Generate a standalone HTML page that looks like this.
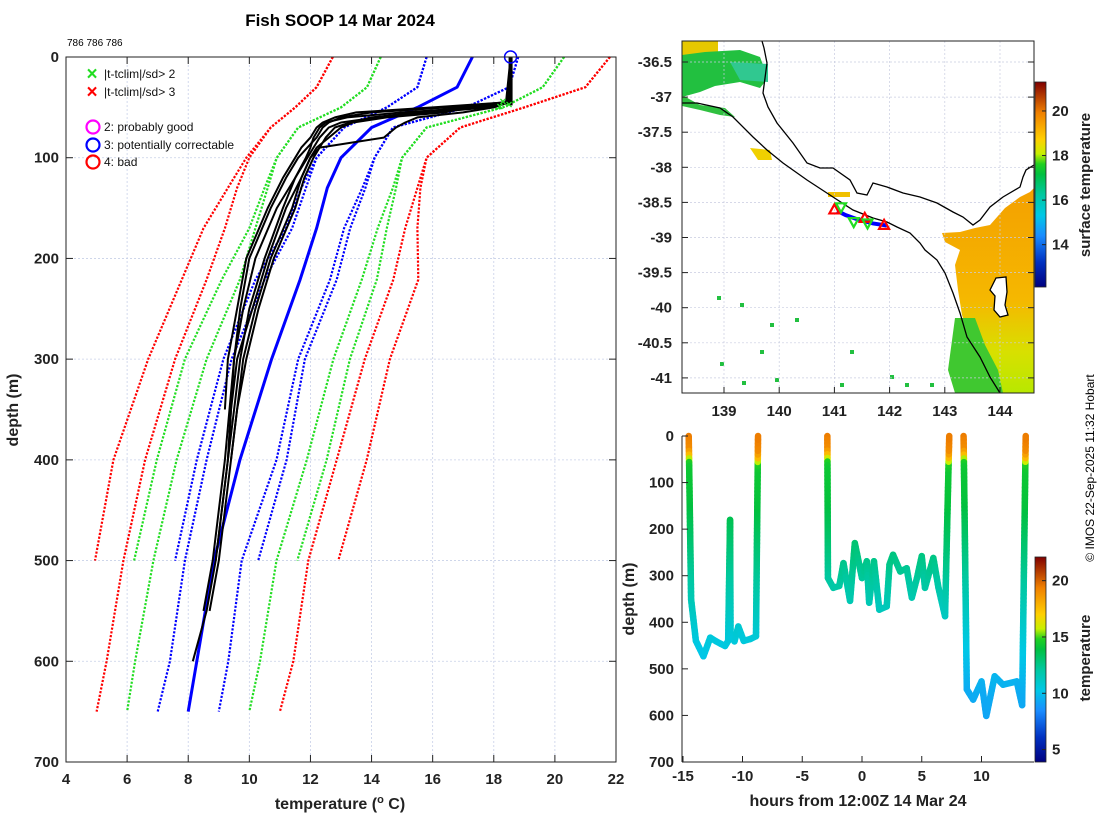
<!DOCTYPE html>
<html><head><meta charset="utf-8"><style>
html,body{margin:0;padding:0;background:#fff;}
svg{display:block;font-family:"Liberation Sans","DejaVu Sans",sans-serif;}
.tk{font-size:15px;font-weight:bold;fill:#222;}
.lab{font-size:16px;font-weight:bold;fill:#222;}
.lg{font-size:12px;fill:#111;}
</style></head><body>
<svg id="root" width="1100" height="820" viewBox="0 0 1100 820" xmlns="http://www.w3.org/2000/svg">
<defs>
<linearGradient id="cmap" x1="0" y1="1" x2="0" y2="0">
<stop offset="0" stop-color="#000080"/><stop offset="0.12" stop-color="#0030c0"/><stop offset="0.25" stop-color="#1a8cff"/><stop offset="0.35" stop-color="#00c8e6"/><stop offset="0.45" stop-color="#00c8a0"/><stop offset="0.55" stop-color="#00c040"/><stop offset="0.6" stop-color="#20d020"/><stop offset="0.65" stop-color="#c8f000"/><stop offset="0.72" stop-color="#ffd000"/><stop offset="0.85" stop-color="#f08000"/><stop offset="1" stop-color="#800000"/>
</linearGradient>
<linearGradient id="sstgrad" x1="0" y1="0" x2="0" y2="1">
<stop offset="0" stop-color="#f4a000"/><stop offset="0.55" stop-color="#f5b800"/><stop offset="0.8" stop-color="#d8e000"/><stop offset="1" stop-color="#b8e800"/>
</linearGradient>
</defs>
<text x="340" y="26" text-anchor="middle" style="font-size:17px;font-weight:bold">Fish SOOP 14 Mar 2024</text>
<text x="67" y="46" style="font-size:10px">786 786 786</text>
<g id="left"></g>
<g id="map"></g>
<g id="ts"></g>
<text transform="translate(1094,468) rotate(-90)" text-anchor="middle" style="font-size:12px">© IMOS 22-Sep-2025 11:32 Hobart</text>
</svg>
<script>
// ---------- profile data ----------
const climDepths = [0,30,50,70,100,130,170,221,300,400,500,600,650];
const meanA   = [17.3,16.8,15.5,14.0,13.0,12.55,12.2,11.66,10.73,9.69,8.84,8.28,8.0];
const blueAL  = [15.8,15.5,14.5,13.1,12.2,11.85,11.4,10.5,9.42,8.6,7.89,7.4,7.0];
const blueAR  = [18.8,18.5,17.1,14.7,14.1,13.7,13.1,12.64,11.6,10.89,9.75,9.31,9.0];
const greenAL = [14.3,13.85,13.0,11.6,10.9,10.6,10.2,9.69,8.6,7.62,6.86,6.26,6.0];
const greenAR = [20.3,19.6,18.3,15.8,15.0,14.7,14.2,13.68,12.75,11.88,10.89,10.35,10.0];
const redAL   = [12.73,12.2,11.5,10.7,10.0,9.6,9.2,8.6,7.57,6.59,5.88,5.33,5.0];
const redAR   = [21.8,21.0,19.0,16.9,15.8,15.5,15.1,14.71,13.78,12.86,11.93,11.44,11.0];
const blueBL  = [15.8,15.5,14.5,13.1,12.2,11.7,11.2,10.2,9.15,8.28,7.57];
const blueBR  = [18.8,18.5,17.1,14.7,14.1,13.8,13.3,12.86,11.82,11.22,10.29];
const greenBL = [14.3,13.85,13.0,11.6,10.9,10.5,10.0,9.1,7.89,6.97,6.23];
const greenBR = [20.3,19.6,18.3,15.8,15.0,14.8,14.5,14.17,13.29,12.53,11.57];
const redBL   = [12.73,12.2,11.5,10.7,9.9,9.3,8.5,7.79,6.69,5.55,4.95];
const redBR   = [21.8,21.0,19.0,16.9,15.8,15.6,15.5,15.53,14.6,13.84,12.91];
const castDepths = [0,45,50,55,60,65,70,80,90,100,120,150,200,250,300,350,400,450,500,550,600];
const cast1 = [18.55,18.5,17.6,15.0,13.2,12.5,12.3,12.1,12.0,11.85,11.5,11.1,10.5,10.0,9.7,9.5,9.3,9.1,8.9,8.6,8.15];
const cast2 = [18.55,18.45,17.2,16.4,14.5,13.4,13.0,12.6,12.2,12.0,11.7,11.4,10.7,10.2,9.8,9.6,9.4,9.2,9.0,8.7];
const cast3 = [18.55,18.5,18.0,17.0,15.5,15.1,14.8,14.4,12.3,12.0,11.7,11.2,10.6,10.1,9.6,9.4,9.3,9.1,8.9];
const cast4 = [18.55,18.4,16.5,14.0,13.0,12.6,12.4,12.2,11.9,11.6,11.2,10.7,10.0,9.7,9.5,9.4,9.3];
const cast5 = [18.55,18.5,17.8,16.0,14.2,13.0,12.6,12.3,12.1,11.9,11.5,10.9,10.2,9.8,9.5,9.35,9.2,9.0,8.8,8.5];
const cast6 = [18.55,18.5,17.0,15.5,14.0,13.3,12.8,12.5,12.3,12.1,11.8,11.5,10.8,10.3,9.9,9.6,9.4];
const cast7 = [18.55,18.45,16.0,13.5,12.8,12.4,12.2,12.0,11.7,11.5,11.1,10.6,9.9,9.6,9.3,9.2];
const tempTicks = [4,6,8,10,12,14,16,18,20,22];
const depthTicks = [0,100,200,300,400,500,600,700];

// ---------- depth-time data ----------
const seg1Hours = [-14.5,-14.3,-13.9,-13.27,-12.7,-12.2,-11.46,-11.2,-11.04,-11.0,-10.67,-10.35,-9.9,-9.35,-8.87,-8.7];
const seg1Depth = [0,351,440,473,433,441,451,440,180,430,441,409,440,436,430,0];
const seg2Hours = [-2.9,-2.85,-2.4,-1.9,-1.55,-1.0,-0.6,0,0.4,0.6,1.0,1.45,2.07,2.3,2.6,3.2,3.74,4.17,4.6,5.0,5.27,5.97,6.4,6.95,7.3];
const seg2Depth = [0,305,326,322,273,354,230,305,269,358,269,373,366,276,255,291,284,347,305,258,326,262,326,387,0];
const seg3Hours = [8.5,8.77,9.3,10.0,10.4,11.1,11.8,12.95,13.4,13.7];
const seg3Depth = [0,544,566,527,601,516,534,527,578,0];
const colorDepths = [0,30,45,55,70,150,250,350,450,550,650];
const colorTemps  = [19.5,19,17.5,14.8,14.3,14.0,12.8,11.6,10.4,9.4,9];
const hourTicks = [-15,-10,-5,0,5,10,15];
const tsDepthTicks = [0,100,200,300,400,500,600,700];
const cbar2Ticks = [5,10,15,20];

// ---------- map data ----------
const lonTicks = [139,140,141,142,143,144];
const latTicks = [-36.5,-37,-37.5,-38,-38.5,-39,-39.5,-40,-40.5,-41];
const cbar1Ticks = [14,16,18,20];
const trackLon = [141.05,141.2,141.45,141.7,141.95];
const trackLat = [-38.62,-38.68,-38.75,-38.8,-38.83];
const redTriLon = [141.0,141.55,141.9];
const redTriLat = [-38.6,-38.72,-38.82];
const greenTriLon = [141.12,141.35,141.6];
const greenTriLat = [-38.57,-38.78,-38.8];

const NS='http://www.w3.org/2000/svg';
function mk(parent,tag,attrs,text){const e=document.createElementNS(NS,tag);for(const k in attrs)e.setAttribute(k,attrs[k]);if(text!==undefined)e.textContent=text;parent.appendChild(e);return e;}
function interp(xs,ys,x){if(x<=xs[0])return ys[0];for(let i=1;i<xs.length;i++){if(x<=xs[i]){const t=(x-xs[i-1])/(xs[i]-xs[i-1]);return ys[i-1]+t*(ys[i]-ys[i-1]);}}return ys[ys.length-1];}
const cstops=[[0,[0,0,128]],[0.12,[0,48,192]],[0.25,[26,140,255]],[0.35,[0,200,230]],[0.45,[0,200,160]],[0.55,[0,192,64]],[0.6,[32,208,32]],[0.65,[200,240,0]],[0.72,[255,208,0]],[0.85,[240,128,0]],[1,[128,0,0]]];
function cmap(v){v=Math.max(0,Math.min(1,v));for(let i=1;i<cstops.length;i++){if(v<=cstops[i][0]){const a=cstops[i-1],b=cstops[i];const t=(v-a[0])/(b[0]-a[0]);const c=a[1].map((x,j)=>Math.round(x+t*(b[1][j]-x)));return 'rgb('+c.join(',')+')';}}return 'rgb(128,0,0)';}

// ================= LEFT PANEL =================
const L=document.getElementById('left');
const lx=t=>66+(t-4)*(550/18), ly=d=>57+d*(705/700);
mk(L,'rect',{x:66,y:57,width:550,height:705,fill:'#fff'});
tempTicks.forEach(t=>{const g=mk(L,'line',{x1:lx(t),x2:lx(t),y1:57,y2:762,stroke:'#c8d0e8','stroke-width':0.8,'stroke-dasharray':'2 2'});});
depthTicks.forEach(d=>{const g=mk(L,'line',{x1:66,x2:616,y1:ly(d),y2:ly(d),stroke:'#c8d0e8','stroke-width':0.8,'stroke-dasharray':'2 2'});});
function prof(temps,depths,color,w,dash,name){const pts=temps.map((t,i)=>lx(t).toFixed(1)+','+ly(depths[i]).toFixed(1)).join(' ');const e=mk(L,'polyline',{points:pts,fill:'none',stroke:color,'stroke-width':w,'stroke-linejoin':'round'});if(dash)e.setAttribute('stroke-dasharray',dash);return e;}
const dsh='2.2 1.6';
prof(redAL,climDepths,'#ff0000',2.2,dsh,'clim-minus-3sd');prof(redAR,climDepths,'#ff0000',2.2,dsh,'clim-plus-3sd');
prof(redBL,climDepths,'#ff0000',2.2,dsh,'clim2-minus-3sd');prof(redBR,climDepths,'#ff0000',2.2,dsh,'clim2-plus-3sd');
prof(greenAL,climDepths,'#22dd22',2.2,dsh,'clim-minus-2sd');prof(greenAR,climDepths,'#22dd22',2.2,dsh,'clim-plus-2sd');
prof(greenBL,climDepths,'#22dd22',2.2,dsh,'clim2-minus-2sd');prof(greenBR,climDepths,'#22dd22',2.2,dsh,'clim2-plus-2sd');
prof(blueAL,climDepths,'#0000ff',2.2,dsh,'clim-minus-1sd');prof(blueAR,climDepths,'#0000ff',2.2,dsh,'clim-plus-1sd');
prof(blueBL,climDepths,'#0000ff',2.2,dsh,'clim2-minus-1sd');prof(blueBR,climDepths,'#0000ff',2.2,dsh,'clim2-plus-1sd');
prof(meanA,climDepths,'#0000ff',3,null,'clim-mean');
[cast1,cast2,cast3,cast4,cast5,cast6,cast7].forEach((c,i)=>{prof(c,castDepths,'#000',2,null,'xbt-profile-'+(i+1));});
mk(L,'line',{x1:lx(18.55),x2:lx(18.55),y1:ly(0),y2:ly(48),stroke:'#000','stroke-width':4});
const qc=mk(L,'circle',{cx:lx(18.55),cy:ly(0),r:6,fill:'none',stroke:'#0000ff','stroke-width':1.5});

[[18.3,44],[18.5,47],[18.2,49]].forEach(p=>{const e=mk(L,'text',{x:lx(p[0]),y:ly(p[1])+4,'text-anchor':'middle',fill:'#22dd22',style:'font-size:12px;font-weight:bold'},'×');});
mk(L,'rect',{x:66,y:57,width:550,height:705,fill:'none',stroke:'#222','stroke-width':1});
tempTicks.forEach(t=>{mk(L,'line',{x1:lx(t),x2:lx(t),y1:762,y2:755,stroke:'#222'});mk(L,'line',{x1:lx(t),x2:lx(t),y1:57,y2:64,stroke:'#222'});const e=mk(L,'text',{x:lx(t),y:784,'text-anchor':'middle',class:'tk'},t);});
depthTicks.forEach(d=>{mk(L,'line',{x1:66,x2:73,y1:ly(d),y2:ly(d),stroke:'#222'});mk(L,'line',{x1:609,x2:616,y1:ly(d),y2:ly(d),stroke:'#222'});const e=mk(L,'text',{x:59,y:ly(d)+5,'text-anchor':'end',class:'tk'},d);});
let e=mk(L,'text',{x:340,y:809,'text-anchor':'middle',class:'lab'});e.innerHTML='temperature (<tspan dy="-6" style="font-size:11px">o</tspan><tspan dy="6"> C)</tspan>';
e=mk(L,'text',{transform:'translate(18,410) rotate(-90)','text-anchor':'middle',class:'lab'},'depth (m)');
const LG=mk(L,'g',{});
e=mk(LG,'text',{x:92,y:80,'text-anchor':'middle',fill:'#22dd22',style:'font-size:19px;font-weight:bold'},'×');
e=mk(LG,'text',{x:104,y:78,class:'lg'},'|t-tclim|/sd> 2');
e=mk(LG,'text',{x:92,y:98,'text-anchor':'middle',fill:'#ff0000',style:'font-size:19px;font-weight:bold'},'×');
e=mk(LG,'text',{x:104,y:96,class:'lg'},'|t-tclim|/sd> 3');
[['#ff00ff',127,'2: probably good','legend-entry-good'],['#0000ff',145,'3: potentially correctable','legend-entry-correctable'],['#ff0000',162,'4: bad','legend-entry-bad']].forEach(r=>{const c=mk(LG,'circle',{cx:93,cy:r[1],r:6.5,fill:'none',stroke:r[0],'stroke-width':2.2});const t=mk(LG,'text',{x:104,y:r[1]+4,class:'lg'},r[2]);});

// ================= MAP =================
const M=document.getElementById('map');
const mx=lon=>724+(lon-139)*55.2, my=lat=>62+(-36.5-lat)*70.2;
mk(M,'rect',{x:682,y:41,width:352,height:352,fill:'#fff'});
function poly(parent,pts,fill,name){const p=mk(parent,'polygon',{points:pts,fill:fill});return p;}
poly(M,'682,41 718,41 718,52 700,55 682,58','#e6c800','sst-patch-north');
poly(M,'682,55 705,52 740,50 760,57 768,78 760,88 740,82 715,86 700,92 682,97','#22c040','sst-patch-north-green');
poly(M,'730,62 768,64 768,82 740,80','#30c890','sst-patch-north-teal');
poly(M,'682,95 700,105 725,108 735,117 720,115 700,110 682,106','#30c040','sst-patch-coast');
poly(M,'750,148 770,150 772,160 758,160','#f0d000','sst-patch-yellow');
poly(M,'828,192 850,192 850,197 828,197','#f0c000','sst-patch-small');
poly(M,'942,233 960,232 975,228 990,225 1005,208 1020,197 1030,192 1034,188 1034,393 1000,393 985,370 970,340 962,315 958,290 955,265 960,250 945,242','url(#sstgrad)','sst-patch-bass-strait');
poly(M,'955,318 975,318 985,345 998,370 1003,393 955,393 948,370','#40c830','sst-patch-southeast-green');
[[717,296],[740,303],[770,323],[795,318],[760,350],[720,362],[850,350],[890,375],[905,383],[840,383],[930,383],[742,381],[775,378]].forEach(p=>{const r=mk(M,'rect',{x:p[0],y:p[1],width:4,height:4,fill:'#22c040'});});
lonTicks.forEach(l=>mk(M,'line',{x1:mx(l),x2:mx(l),y1:41,y2:393,stroke:'#c8cce0','stroke-width':0.7,'stroke-dasharray':'2 2'}));
latTicks.forEach(l=>mk(M,'line',{x1:682,x2:1034,y1:my(l),y2:my(l),stroke:'#c8cce0','stroke-width':0.7,'stroke-dasharray':'2 2'}));
e=mk(M,'polyline',{points:'682,103 697,103 720,108 733,117 753,137 767,150 783,163 807,180 833,197 853,210 873,218 887,222 897,227 910,233 920,243 925,250 937,260 945,273 953,293 960,313 967,337 980,357 990,377 1000,393',fill:'none',stroke:'#000','stroke-width':1.3});
e=mk(M,'polyline',{points:'762,41 764,48 767,63 763,93 768,107 777,123 793,143 807,163 820,168 833,168 850,180 857,193 867,195 873,183 887,187 903,193 920,197 937,203 953,212 963,217 973,225 980,220 990,207 1003,197 1020,187 1023,177 1026,170 1034,165',fill:'none',stroke:'#000','stroke-width':1.3});
e=mk(M,'polygon',{points:'996,278 1006,277 1007,292 1005,305 1008,315 1000,317 994,310 995,296 990,290',fill:'#fff',stroke:'#000','stroke-width':1.3});
e=mk(M,'polyline',{points:trackLon.map((l,i)=>mx(l)+','+my(trackLat[i])).join(' '),fill:'none',stroke:'#0000ff','stroke-width':4});
redTriLon.forEach((l,i)=>{const x=mx(l),y=my(redTriLat[i]);const t=mk(M,'polygon',{points:`${x-5},${y+4} ${x+5},${y+4} ${x},${y-5}`,fill:'none',stroke:'#ff0000','stroke-width':2.2});});
greenTriLon.forEach((l,i)=>{const x=mx(l),y=my(greenTriLat[i]);const t=mk(M,'polygon',{points:`${x-5},${y-4} ${x+5},${y-4} ${x},${y+5}`,fill:'none',stroke:'#22dd22','stroke-width':2.2});});
mk(M,'rect',{x:682,y:41,width:352,height:352,fill:'none',stroke:'#222','stroke-width':1});
lonTicks.forEach(l=>{mk(M,'line',{x1:mx(l),x2:mx(l),y1:393,y2:387,stroke:'#222'});const t=mk(M,'text',{x:mx(l),y:416,'text-anchor':'middle',class:'tk'},l);});
latTicks.forEach(l=>{mk(M,'line',{x1:682,x2:688,y1:my(l),y2:my(l),stroke:'#222'});mk(M,'line',{x1:1028,x2:1034,y1:my(l),y2:my(l),stroke:'#222'});const t=mk(M,'text',{x:672,y:my(l)+5,'text-anchor':'end',class:'tk'},l);});
const c1lo=12.1,c1hi=21.3,c1y=v=>287-(v-c1lo)/(c1hi-c1lo)*205;
e=mk(M,'rect',{x:1035,y:82,width:11,height:205,fill:'url(#cmap)'});
mk(M,'rect',{x:1035,y:82,width:11,height:205,fill:'none',stroke:'#222','stroke-width':0.8});
cbar1Ticks.forEach(v=>{mk(M,'line',{x1:1046,x2:1042,y1:c1y(v),y2:c1y(v),stroke:'#222'});const t=mk(M,'text',{x:1052,y:c1y(v)+5,class:'tk'},v);});
e=mk(M,'text',{transform:'translate(1090,185) rotate(-90)','text-anchor':'middle',class:'lab',style:'font-size:15px'},'surface temperature');

// ================= DEPTH-TIME =================
const T=document.getElementById('ts');
const tx=h=>862+h*11.95, ty=d=>436+d*0.4657;
const c2lo=3.9,c2hi=22.1;
function tcol(d){const t=interp(colorDepths,colorTemps,d);return cmap((t-c2lo)/(c2hi-c2lo));}
[[seg1Hours,seg1Depth],[seg2Hours,seg2Depth],[seg3Hours,seg3Depth]].forEach((s,si)=>{const g=mk(T,'g',{});
 for(let i=1;i<s[0].length;i++){const h0=s[0][i-1],h1=s[0][i],d0=s[1][i-1],d1=s[1][i];const n=Math.max(1,Math.ceil(Math.abs(d1-d0)/8));for(let k=0;k<n;k++){const a=k/n,b=(k+1)/n;const dm=d0+(a+b)/2*(d1-d0);mk(g,'line',{x1:tx(h0+a*(h1-h0)),y1:ty(d0+a*(d1-d0)),x2:tx(h0+b*(h1-h0)),y2:ty(d0+b*(d1-d0)),stroke:tcol(dm),'stroke-width':6.5,'stroke-linecap':'round'});}}});
mk(T,'line',{x1:682,x2:682,y1:436,y2:762,stroke:'#222'});mk(T,'line',{x1:682,x2:1034,y1:762,y2:762,stroke:'#222'});
hourTicks.forEach(h=>{const x=Math.max(683,tx(h));if(x>1034)return;mk(T,'line',{x1:x,x2:x,y1:762,y2:756,stroke:'#222'});const t=mk(T,'text',{x:x,y:781,'text-anchor':'middle',class:'tk'},h);});
tsDepthTicks.forEach(d=>{mk(T,'line',{x1:682,x2:688,y1:ty(d),y2:ty(d),stroke:'#222'});const t=mk(T,'text',{x:674,y:ty(d)+5,'text-anchor':'end',class:'tk'},d);});
e=mk(T,'text',{x:858,y:806,'text-anchor':'middle',class:'lab'},'hours from 12:00Z 14 Mar 24');
e=mk(T,'text',{transform:'translate(634,599) rotate(-90)','text-anchor':'middle',class:'lab'},'depth (m)');
const c2y=v=>762-(v-c2lo)/(c2hi-c2lo)*205;
e=mk(T,'rect',{x:1035,y:557,width:11,height:205,fill:'url(#cmap)'});
mk(T,'rect',{x:1035,y:557,width:11,height:205,fill:'none',stroke:'#222','stroke-width':0.8});
cbar2Ticks.forEach(v=>{mk(T,'line',{x1:1046,x2:1042,y1:c2y(v),y2:c2y(v),stroke:'#222'});const t=mk(T,'text',{x:1052,y:c2y(v)+5,class:'tk'},v);});
e=mk(T,'text',{transform:'translate(1090,658) rotate(-90)','text-anchor':'middle',class:'lab',style:'font-size:15px'},'temperature');
</script>
</body></html>
